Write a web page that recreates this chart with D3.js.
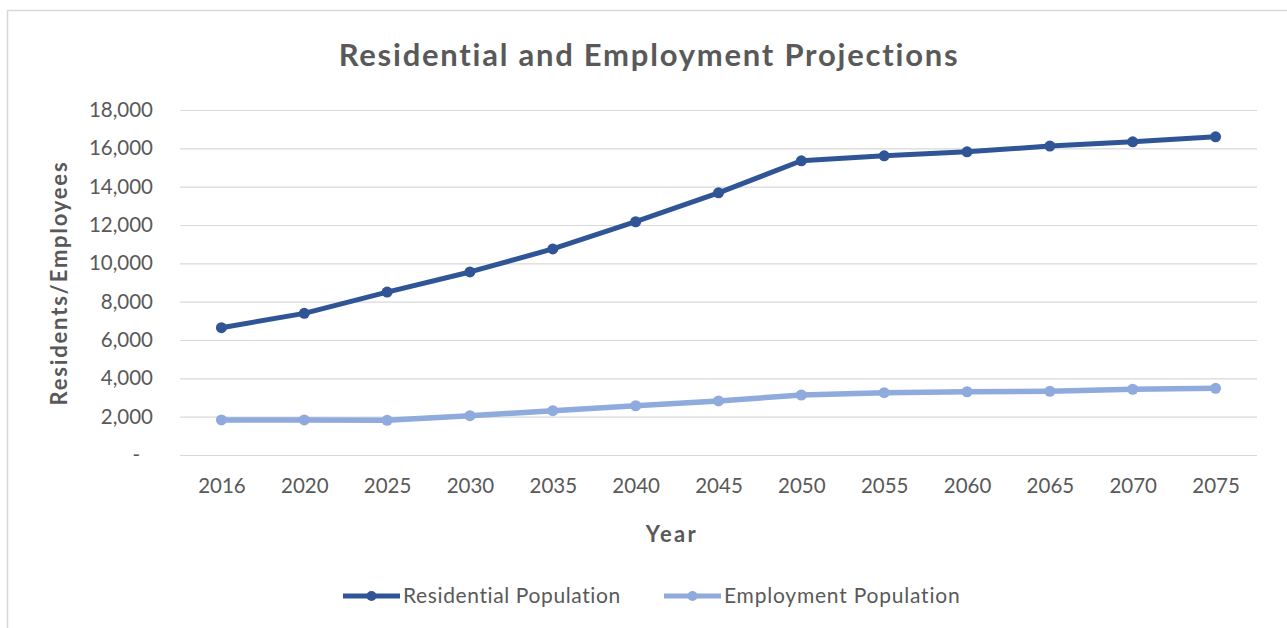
<!DOCTYPE html>
<html>
<head>
<meta charset="utf-8">
<script src="https://cdn.jsdelivr.net/npm/d3@7"></script>
<style>
  body { margin: 0; background: #fff; }
  text { font-family: Lato, "Open Sans", sans-serif; fill: #595959; }
</style>
</head>
<body>
<div id="chart"></div>
<script>
// Data
var years = ['2016', '2020', '2025', '2030', '2035', '2040', '2045', '2050', '2055', '2060', '2065', '2070', '2075']
var residential = [6640, 7390, 8500, 9550, 10750, 12170, 13680, 15350, 15610, 15820, 16120, 16340, 16600]
var employment = [1830, 1830, 1810, 2050, 2310, 2570, 2820, 3130, 3250, 3300, 3320, 3430, 3480]
var yTicks = [0, 2000, 4000, 6000, 8000, 10000, 12000, 14000, 16000, 18000]

var seriesNames = ['Residential Population', 'Employment Population']
var seriesColors = ['#2f5597', '#8faadc']

// Dimensions
var dims = {
  width: 1287,
  height: 628,
  left: 180,
  right: 1257,
  top: 110,
  bottom: 455
}

// Spread letters a little so the text fills the width the original font took
function fitWidth(sel, target) {
  sel.each(function() {
    var n = this.getNumberOfChars()
    var w = this.getComputedTextLength()
    if (n > 1 && w < target) {
      d3.select(this).style('letter-spacing', (target - w) / (n - 1) + 'px')
    }
  })
}

var svg = d3
  .select('#chart')
  .append('svg')
  .attr('width', dims.width)
  .attr('height', dims.height)

// Chart frame
svg
  .append('rect')
  .attr('x', 7.5)
  .attr('y', 10.5)
  .attr('width', 1290)
  .attr('height', 640)
  .attr('fill', 'none')
  .attr('stroke', '#d9d9d9')
  .attr('stroke-width', 1.5)

// Scales
var xScale = d3
  .scalePoint()
  .domain(years)
  .range([dims.left, dims.right])
  .padding(0.5)

var yScale = d3
  .scaleLinear()
  .domain([0, 18000])
  .range([dims.bottom, dims.top])

// Y axis with gridlines stretched across
var yAxis = d3
  .axisLeft(yScale)
  .tickValues(yTicks)
  .tickSizeInner(-(dims.right - dims.left))
  .tickSizeOuter(0)
  .tickPadding(27)
  .tickFormat(function(d) {
    return d === 0 ? '-' : d3.format(',')(d)
  })

var gy = svg
  .append('g')
  .attr('transform', 'translate(' + dims.left + ',0)')
  .call(yAxis)
gy.select('.domain').remove()
gy.selectAll('.tick line').attr('stroke', '#d9d9d9').attr('stroke-width', 1.2)
gy.selectAll('.tick text')
  .style('font-size', '20.5px')
  .attr('fill', '#595959')
  .attr('dx', function(d) {
    return d === 0 ? '-13' : null
  })

// X axis (labels only)
var xAxis = d3.axisBottom(xScale).tickSize(0).tickPadding(23)
var gx = svg
  .append('g')
  .attr('transform', 'translate(0,' + dims.bottom + ')')
  .call(xAxis)
gx.select('.domain').remove()
gx.selectAll('.tick text').style('font-size', '20.5px').attr('fill', '#595959')

// Title
svg
  .append('text')
  .attr('x', 649)
  .attr('y', 66)
  .attr('text-anchor', 'middle')
  .style('font-size', '31px')
  .style('font-weight', 'bold')
  .text('Residential and Employment Projections')
  .call(fitWidth, 620)

// Axis titles
svg
  .append('text')
  .attr('transform', 'translate(67,283) rotate(-90)')
  .attr('text-anchor', 'middle')
  .style('font-size', '22px')
  .style('font-weight', 'bold')
  .text('Residents/Employees')
  .call(fitWidth, 243)

svg
  .append('text')
  .attr('x', 672)
  .attr('y', 542)
  .attr('text-anchor', 'middle')
  .style('font-size', '22px')
  .style('font-weight', 'bold')
  .text('Year')
  .call(fitWidth, 50)

// Lines and markers
var line = d3
  .line()
  .x(function(d, i) {
    return xScale(years[i])
  })
  .y(function(d) {
    return yScale(d)
  })

var allSeries = [residential, employment]
// draw employment first so residential sits on top
;[1, 0].forEach(function(k) {
  var g = svg.append('g')
  g.append('path')
    .attr('d', line(allSeries[k]))
    .attr('fill', 'none')
    .attr('stroke', seriesColors[k])
    .attr('stroke-width', k === 0 ? 5 : 5.5)
    .attr('stroke-linejoin', 'round')
  g.selectAll('circle')
    .data(allSeries[k])
    .enter()
    .append('circle')
    .attr('cx', function(d, i) {
      return xScale(years[i])
    })
    .attr('cy', function(d) {
      return yScale(d)
    })
    .attr('r', 5.5)
    .attr('fill', seriesColors[k])
})

// Legend
var legendX = [343, 664]
var legendW = [218, 236]
var legend = svg
  .selectAll('.legend')
  .data(seriesNames)
  .enter()
  .append('g')
  .attr('class', 'legend')
  .attr('transform', function(d, i) {
    return 'translate(' + legendX[i] + ',596)'
  })
legend
  .append('line')
  .attr('x1', 0)
  .attr('x2', 57)
  .attr('stroke', function(d, i) {
    return seriesColors[i]
  })
  .attr('stroke-width', 5)
legend
  .append('circle')
  .attr('cx', 28.5)
  .attr('r', 5)
  .attr('fill', function(d, i) {
    return seriesColors[i]
  })
legend
  .append('text')
  .attr('x', 60)
  .attr('dy', '0.35em')
  .style('font-size', '21px')
  .text(function(d) {
    return d
  })
  .each(function(d, i) {
    d3.select(this).call(fitWidth, legendW[i])
  })
</script>
</body>
</html>
